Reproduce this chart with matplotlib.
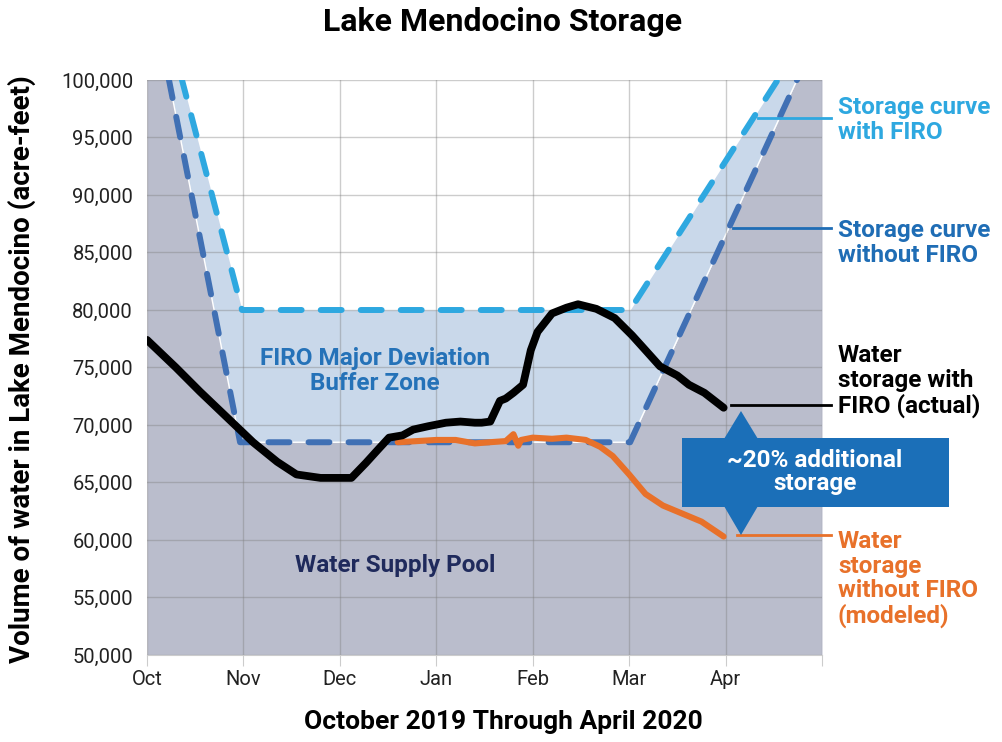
import numpy as np
import matplotlib
matplotlib.use("Agg")
import matplotlib.pyplot as plt
from matplotlib.patches import Polygon, Rectangle

plt.rcParams['font.family'] = ['Roboto', 'DejaVu Sans']

# ---- data (x in months since Oct 1, 2019) ----
month_labels = ["Oct", "Nov", "Dec", "Jan", "Feb", "Mar", "Apr", ""]
month_ticks = [0, 1, 2, 3, 4, 5, 6, 7]
y_ticks = [50000, 55000, 60000, 65000, 70000, 75000, 80000, 85000, 90000, 95000, 100000]

# storage (flood control) curve without FIRO
nofiro_x = [0.0, 0.228, 0.965, 5.01, 6.74, 7.0]
nofiro_y = [109700, 100000, 68500, 68500, 100000, 104700]
# storage curve with FIRO
firo_x = [0.0, 0.363, 0.985, 5.01, 6.54, 7.0]
firo_y = [111700, 100000, 80000, 80000, 100000, 106000]

# actual storage with FIRO
actual_x = [0.0, 0.10, 0.30, 0.55, 0.80, 0.95, 1.10, 1.35, 1.55, 1.80, 2.12, 2.27, 2.40, 2.51, 2.65, 2.76, 2.92,
            3.10, 3.25, 3.40, 3.47, 3.56, 3.66, 3.72, 3.80, 3.90, 3.98, 4.05, 4.20, 4.35,
            4.47, 4.66, 4.85, 5.03, 5.17, 5.32, 5.50, 5.62, 5.78, 5.98]
actual_y = [77400, 76600, 75000, 72900, 70900, 69700, 68500, 66800, 65700, 65400, 65400, 66700, 67900, 68900, 69100,
            69600, 69900, 70200, 70300, 70200, 70200, 70300, 72100, 72300, 72800, 73500, 76500, 78100, 79700, 80200,
            80500, 80100, 79300, 77800, 76500, 75100, 74300, 73500, 72800, 71500]

# modeled storage without FIRO
model_x = [2.60, 2.80, 3.00, 3.20, 3.40, 3.55, 3.72, 3.80, 3.85, 3.88, 4.00, 4.20, 4.35, 4.55, 4.70, 4.83, 5.00,
           5.17, 5.35, 5.55, 5.75, 5.98]
model_y = [68500, 68600, 68700, 68700, 68400, 68500, 68600, 69200, 68200, 68700, 68900, 68800, 68900, 68700, 68100,
           67300, 65700, 64000, 63000, 62300, 61600, 60300]

# ---- figure ----
fig = plt.figure(figsize=(10.03, 7.42), dpi=100)
ax = fig.add_axes([147/1003, 1-655/742, 675/1003, 575/742])
ax.set_xlim(0, 7)
ax.set_ylim(50000, 100000)

xx = np.linspace(0, 7, 1401)
nf = np.interp(xx, nofiro_x, nofiro_y)
fi = np.interp(xx, firo_x, firo_y)

gray = "#babdcc"
lightblue = "#c9d8ea"
ax.fill_between(xx, 50000, nf, color=gray, lw=0, zorder=1)
ax.fill_between(xx, nf, fi, color=lightblue, lw=0, zorder=1)
ax.plot(nofiro_x, nofiro_y, color="white", lw=1.0, zorder=2)

# grid
for t in month_ticks:
    ax.axvline(t, color="#808080", alpha=0.4, lw=1.0, zorder=2)
for t in y_ticks:
    ax.axhline(t, color="#808080", alpha=0.4, lw=1.0, zorder=2)

# dashed rule curves
ax.plot(firo_x, firo_y, color="#2ea8e0", lw=4.3, dashes=(3.5, 3.2), dash_capstyle="round", zorder=4)
ax.plot(nofiro_x, nofiro_y, color="#4070b4", lw=4.3, dashes=(3.5, 3.2), dash_capstyle="round", zorder=4)

# storage lines
ax.plot(model_x, model_y, color="#e8712a", lw=4.4, solid_capstyle="round", solid_joinstyle="round", zorder=5)
ax.plot(actual_x, actual_y, color="black", lw=5.6, solid_capstyle="round", solid_joinstyle="round", zorder=6)

# ticks
ax.set_xticks(month_ticks)
ax.set_xticklabels(month_labels, fontsize=14.5, color="#222222")
ax.set_yticks(y_ticks)
ax.set_yticklabels([f"{v:,}" for v in y_ticks], fontsize=14.5, color="#222222")
ax.tick_params(axis="x", length=8, color="#cccccc", pad=3)
ax.tick_params(axis="y", length=0, pad=10)
for s in ["top", "right", "left"]:
    ax.spines[s].set_visible(False)
ax.spines["bottom"].set_color("#cccccc")
ax.set_axisbelow(False)

# titles
fig.text(503/1003, 1-22/742, "Lake Mendocino Storage", ha="center", va="center",
         fontsize=23, fontweight="bold")
fig.text(503/1003, 1-722/742, "October 2019 Through April 2020", ha="center", va="center",
         fontsize=19, fontweight="bold")
fig.text(22/1003, 1-369/742, "Volume of water in Lake Mendocino (acre-feet)", ha="center", va="center",
         rotation=90, fontsize=20, fontweight="bold")

# inside labels
ax.text(2.36, 74700, "FIRO Major Deviation\nBuffer Zone", ha="center", va="center", fontsize=17.5,
        fontweight="bold", color="#2572b8", linespacing=1.15, zorder=7)
ax.text(2.57, 57800, "Water Supply Pool", ha="center", va="center", fontsize=17.5,
        fontweight="bold", color="#1f2a5c", zorder=7)

# right side labels with connectors
def px2x(px):
    return (px - 147) / 96.43

def py2y(py):
    return 100000 - (py - 80) / 11.5 * 1000

lab_x = px2x(838)
conn = [
    (118, 758, "#2ea8e0", "Storage curve\nwith FIRO", 120),
    (228, 733, "#1f6db5", "Storage curve\nwithout FIRO", 243),
    (405, 731, "black", "Water\nstorage with\nFIRO (actual)", 381),
    (535, 737, "#e8712a", "Water\nstorage\nwithout FIRO\n(modeled)", 579),
]
for py, px0, col, txt, ty in conn:
    ax.plot([px2x(px0), px2x(831)], [py2y(py), py2y(py)], color=col, lw=2, clip_on=False, zorder=7)
    ax.text(lab_x, py2y(ty), txt, ha="left", va="center", fontsize=17.5, fontweight="bold",
            color=col, linespacing=1.08, clip_on=False, zorder=7)

# ~20% additional storage callout
box_col = "#1b6fb8"
ax.add_patch(Rectangle((px2x(682), py2y(507)), px2x(949) - px2x(682), py2y(438) - py2y(507),
                       facecolor=box_col, edgecolor="none", clip_on=False, zorder=8))
ax.add_patch(Polygon([[px2x(724), py2y(439)], [px2x(758), py2y(439)], [px2x(741), py2y(411)]],
                     closed=True, facecolor=box_col, edgecolor="none", clip_on=False, zorder=8))
ax.add_patch(Polygon([[px2x(724), py2y(506)], [px2x(758), py2y(506)], [px2x(741), py2y(535)]],
                     closed=True, facecolor=box_col, edgecolor="none", clip_on=False, zorder=8))
ax.text(px2x(815), py2y(472), "~20% additional\nstorage", ha="center", va="center", fontsize=17.5,
        fontweight="bold", color="white", linespacing=1.05, clip_on=False, zorder=9)

fig.savefig("out.png", dpi=100)
